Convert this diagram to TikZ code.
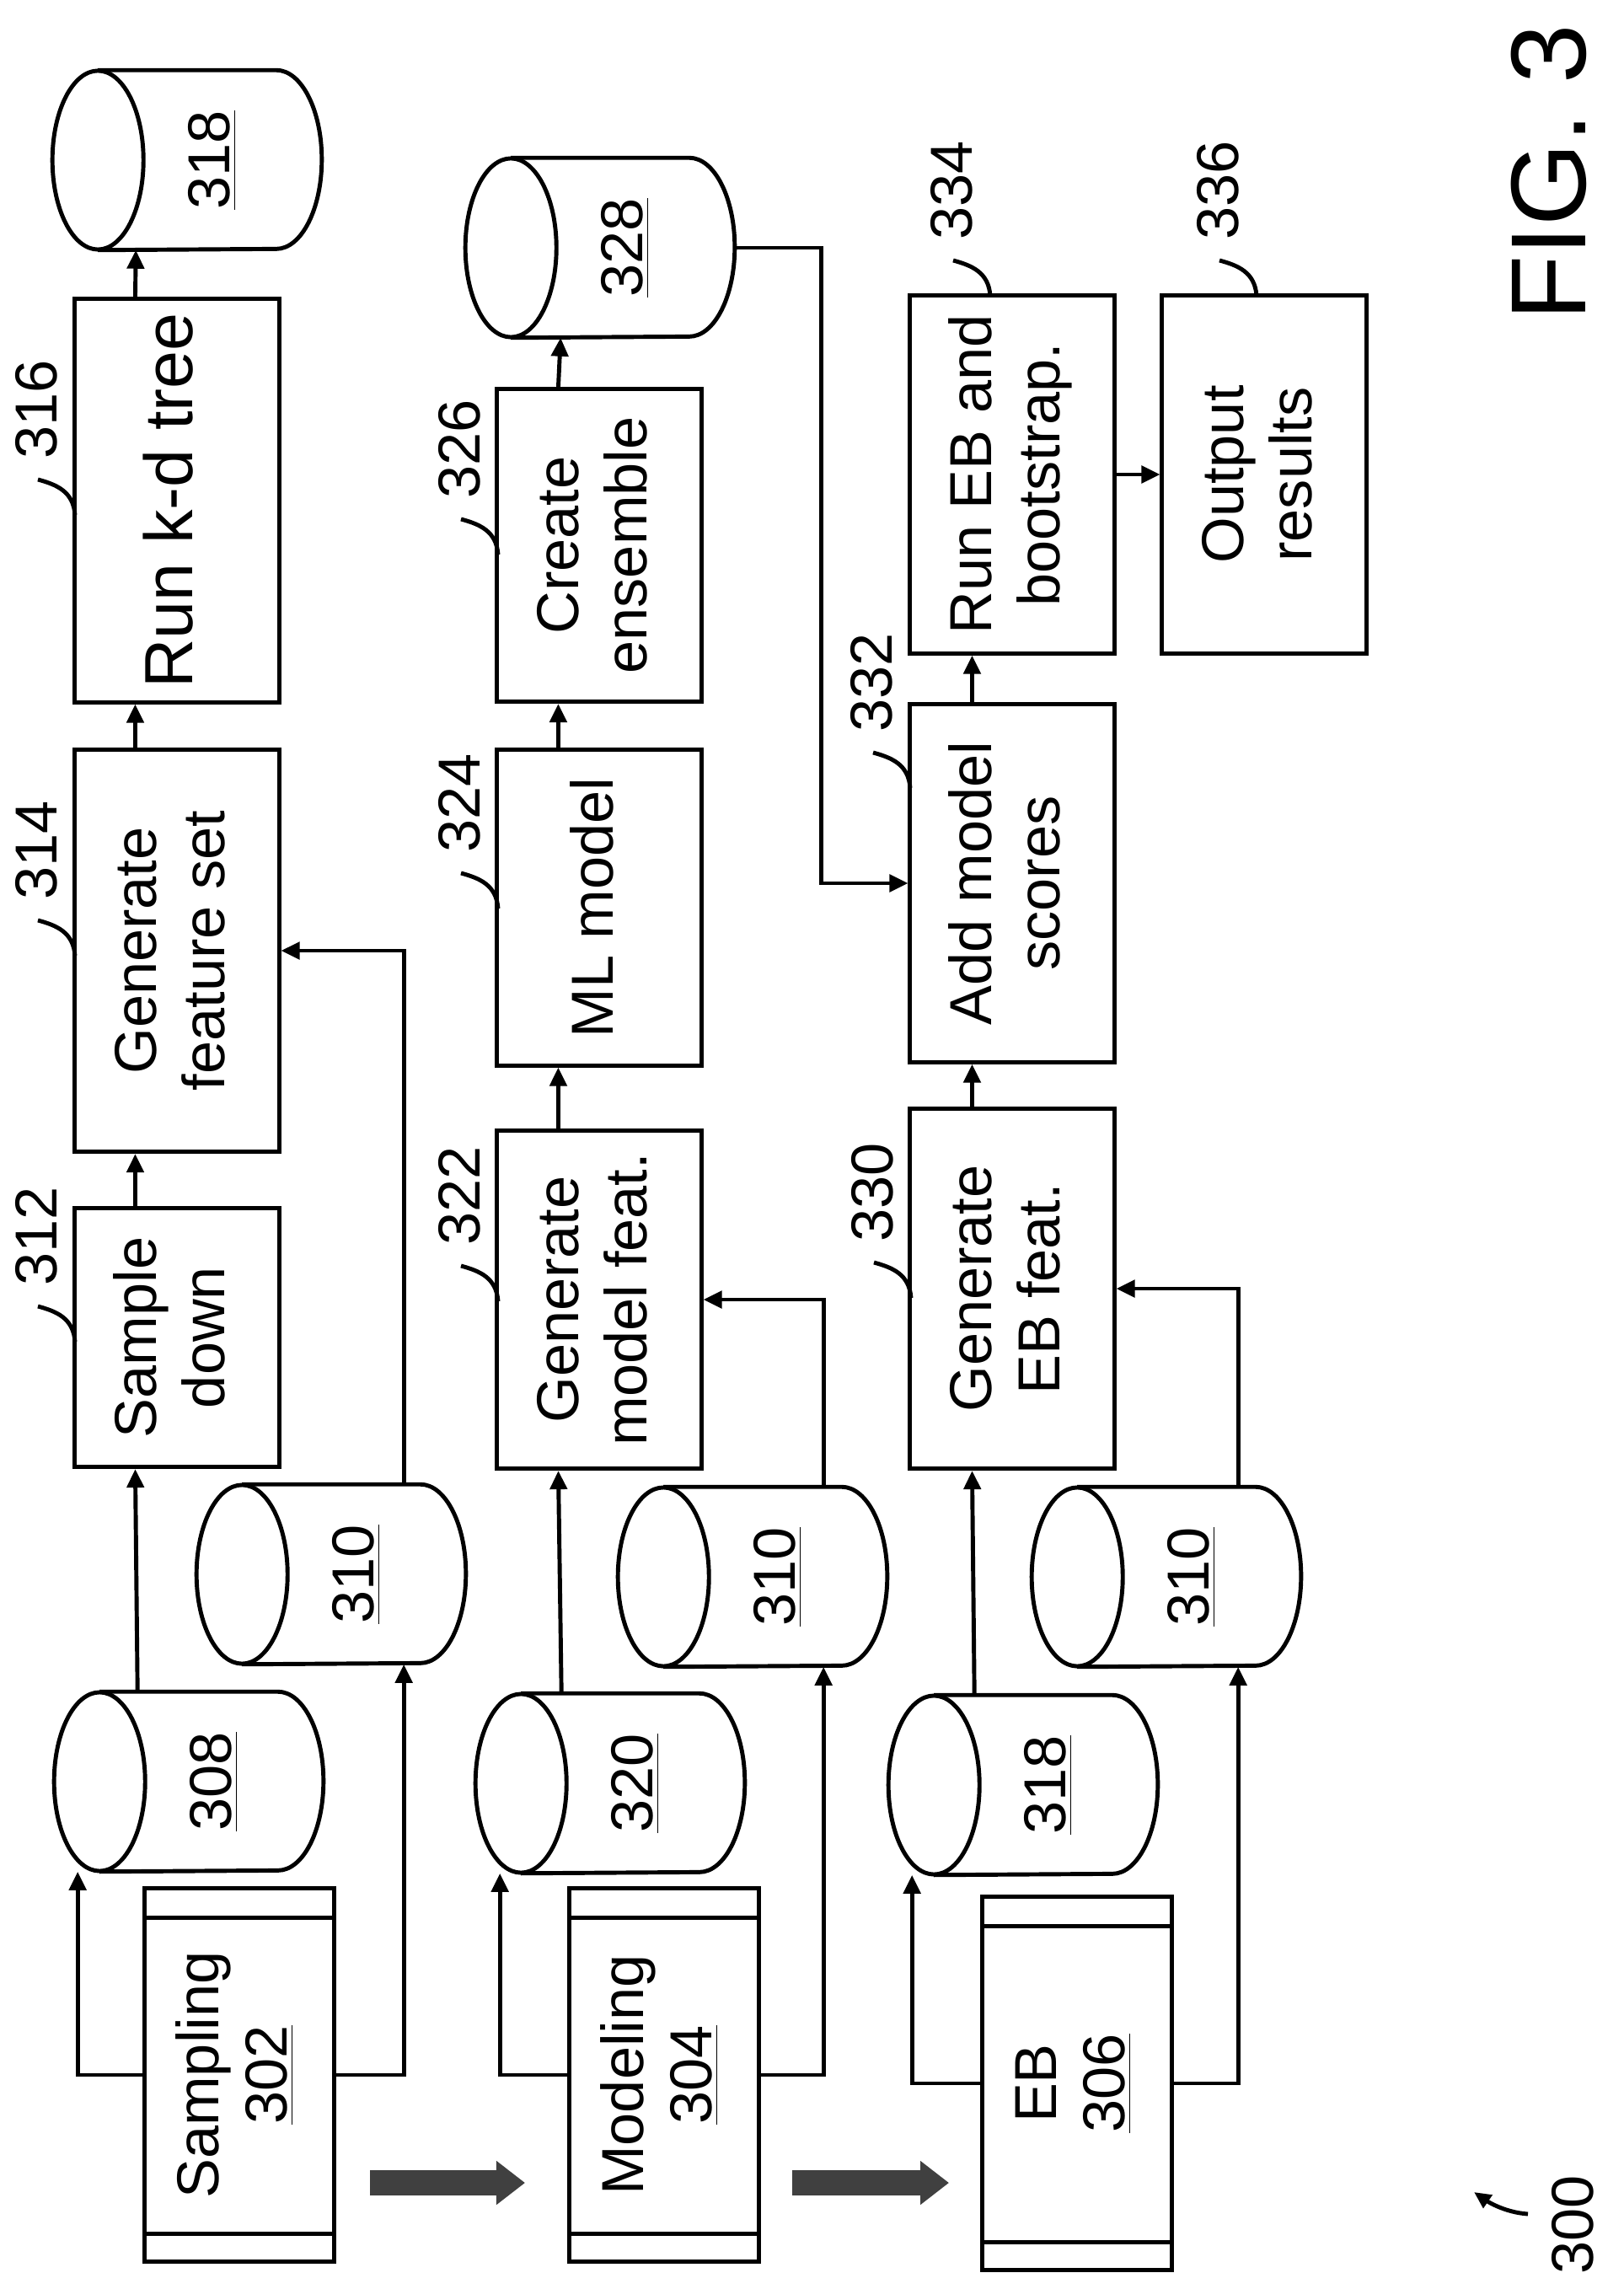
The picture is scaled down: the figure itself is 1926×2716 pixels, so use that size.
\documentclass[tikz,border=0pt]{standalone}
\usepackage{fontspec}
\setmainfont{Liberation Sans}
\usetikzlibrary{calc,arrows.meta,positioning}

\tikzset{
  line/.style={line width=1.4pt},
  box/.style={line, draw, rectangle, inner sep=0pt, minimum width=2.42cm},
  arr/.style={line, -{Triangle[length=0.22cm,width=0.2cm]}},
  fat/.style={line width=0.3cm, draw=black!75, -{Triangle[length=0.34cm,width=0.5cm]}},
  num/.style={rotate=90, inner sep=1pt},
}
\newcommand\vtext[1]{\rotatebox{90}{\begin{tabular}{@{}c@{}}#1\end{tabular}}}
% storage drum lying on its side: name, x, y, number
\newcommand\drum[4]{%
  \node[minimum width=3.18cm, minimum height=2.12cm, inner sep=0pt] (#1) at (#2,#3) {};
  \draw[line] ($(#1.north west)+(54,0)$) -- ($(#1.north east)+(-54,0)$)
    arc[start angle=90, end angle=-90, x radius=0.54cm, y radius=1.06cm]
    -- ($(#1.south west)+(54,0)$);
  \draw[line] ($(#1.west)+(54,0)$) ellipse [x radius=0.54cm, y radius=1.06cm];
  \node[num] at ($(#1.center)+(30,0)$) {\underline{#4}};}
% start block with a bar at each end
\newcommand\stage[4]{%
  \node[box, minimum width=2.24cm, minimum height=4.42cm] (#1) at (#2,#3) {\vtext{#4}};
  \draw[line] ($(#1.north west)+(0,37)$) -- ($(#1.north east)+(0,37)$);
  \draw[line] ($(#1.south west)+(0,-35)$) -- ($(#1.south east)+(0,-35)$);}

\begin{document}
\begin{tikzpicture}[x=0.01cm, y=-0.01cm, font=\fontsize{20}{23}\selectfont]
\useasboundingbox (0,0) rectangle (1926,2716);

% sampling
\stage{s302}{284}{2462}{Sampling\\\underline{302}}
\drum{d308}{224}{2114}{308}
\drum{d310a}{393}{1868}{310}
\node[box, minimum height=3.07cm] (b312) at (210,1587) {\vtext{Sample\\down}};
\node[box, minimum height=4.77cm] (b314) at (210,1128) {\vtext{Generate\\feature set}};
\node[box, minimum height=4.78cm, font=\fontsize{23}{26}\selectfont] (b316) at (210,594) {\vtext{Run k-d tree}};
\drum{d318a}{222}{190}{318}

% modeling
\stage{s304}{788}{2462}{Modeling\\\underline{304}}
\drum{d320}{724}{2116}{320}
\drum{d310b}{893}{1871}{310}
\node[box, minimum height=4.01cm] (b322) at (711,1542) {\vtext{Generate\\model feat.}};
\node[box, minimum height=3.74cm] (b324) at (711,1077) {\vtext{ML model}};
\node[box, minimum height=3.71cm] (b326) at (711,647) {\vtext{Create\\ensemble}};
\drum{d328}{712}{294}{328}

% EB
\stage{s306}{1278}{2472}{EB\\\underline{306}}
\drum{d318b}{1214}{2118}{318}
\drum{d310c}{1384}{1871}{310}
\node[box, minimum height=4.27cm] (b330) at (1201,1529) {\vtext{Generate\\EB feat.}};
\node[box, minimum height=4.24cm] (b332) at (1201,1048) {\vtext{Add model\\scores}};
\node[box, minimum height=4.24cm] (b334) at (1201,563) {\vtext{Run EB and\\bootstrap.}};
\node[box, minimum height=4.24cm] (b336) at (1500,563) {\vtext{Output\\results}};

% connectors
\draw[arr] (s302.west) -| ($(d308.south west)+(28,0)$);
\draw[arr] (s302.east) -| ($(d310a.south west)+(246,0)$);
\draw[arr] ($(d308.north west)+(99,0)$) -- ($(b312.south west)+(74,0)$);
\draw[arr] ($(d310a.north west)+(246,0)$) |- (b314.east);
\draw[arr] ($(b312.north west)+(74,0)$) -- ($(b314.south west)+(74,0)$);
\draw[arr] ($(b314.north west)+(74,0)$) -- ($(b316.south west)+(74,0)$);
\draw[arr] ($(b316.north west)+(74,0)$) -- ($(d318a.south west)+(99,0)$);

\draw[arr] (s304.west) -| ($(d320.south west)+(29,0)$);
\draw[arr] (s304.east) -| ($(d310b.south west)+(244,0)$);
\draw[arr] ($(d320.north west)+(102,0)$) -- ($(b322.south west)+(75,0)$);
\draw[arr] ($(d310b.north west)+(244,0)$) |- (b322.east);
\draw[arr] ($(b322.north west)+(75,0)$) -- ($(b324.south west)+(75,0)$);
\draw[arr] ($(b324.north west)+(75,0)$) -- ($(b326.south west)+(75,0)$);
\draw[arr] ($(b326.north west)+(75,0)$) -- ($(d328.south west)+(113,0)$);
\draw[arr] (d328.east) -- ++(103,0) |- (b332.west);

\draw[arr] (s306.west) -| ($(d318b.south west)+(28,0)$);
\draw[arr] (s306.east) -| ($(d310c.south west)+(245,0)$);
\draw[arr] ($(d318b.north west)+(102,0)$) -- ($(b330.south west)+(76,0)$);
\draw[arr] ($(d310c.north west)+(245,0)$) |- (b330.east);
\draw[arr] ($(b330.north west)+(76,0)$) -- ($(b332.south west)+(76,0)$);
\draw[arr] ($(b332.north west)+(76,0)$) -- ($(b334.south west)+(76,0)$);
\draw[arr] (b334.east) -- (b336.west);

% stage arrows
\coordinate (f1a) at (439,2590);
\coordinate (f1b) at (623,2590);
\coordinate (f2a) at (940,2590);
\coordinate (f2b) at (1126,2590);
\draw[fat] (f1a) -- (f1b);
\draw[fat] (f2a) -- (f2b);

% reference numerals
\foreach \px/\py/\n in {89/611/316, 89/1134/314, 89/1592/312,
    591/658/326, 591/1078/324, 591/1544/322,
    1080/935/332, 1081/1540/330, 1175/351/334, 1491/351/336} {
  \draw[line] (\px,\py) .. controls +(-2,-28) and +(22,6) .. ++(-44,-42);
  \node[num] at (\px-46,\py-125) {\n};
}

\node[num, font=\fontsize{36}{40}\selectfont] (fig) at (1838,205) {FIG. 3};
\node[num] (n300) at (1866,2640) {300};
\coordinate (p300) at (1749,2601);
\draw[line, -{Triangle[length=0.2cm,width=0.18cm]}] (1813,2627) .. controls (1785,2625) and (1765,2612) .. (p300);
\end{tikzpicture}
\end{document}
